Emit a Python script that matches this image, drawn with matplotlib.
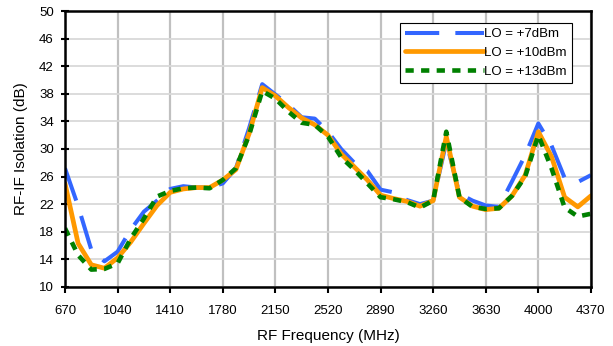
import matplotlib
matplotlib.use('Agg')
import matplotlib.pyplot as plt

plt.rcParams['font.family'] = ['Liberation Sans', 'DejaVu Sans']

# RF frequency categories (MHz)
freq = [670, 762.5, 855, 947.5, 1040, 1132.5, 1225, 1317.5, 1410, 1502.5,
        1595, 1687.5, 1780, 1872.5, 1965, 2057.5, 2150, 2242.5, 2335, 2427.5,
        2520, 2612.5, 2705, 2797.5, 2890, 2982.5, 3075, 3167.5, 3260, 3352.5,
        3445, 3537.5, 3630, 3722.5, 3815, 3907.5, 4000, 4092.5, 4185, 4277.5,
        4370]

# RF-IF isolation (dB)
lo7 = [27.2, 21.7, 15.4, 13.7, 15.1, 18.3, 20.9, 22.5, 24.2, 24.6,
       24.4, 24.4, 25.0, 27.2, 33.0, 39.4, 37.9, 36.4, 34.6, 34.4,
       32.5, 30.0, 28.0, 26.8, 24.1, 23.7, 22.6, 22.0, 22.5, 31.0,
       23.5, 22.5, 21.8, 21.6, 25.3, 29.1, 33.7, 30.5, 25.8, 25.2,
       26.2]
lo10 = [25.0, 16.3, 13.2, 12.7, 14.2, 16.5, 19.2, 21.8, 23.7, 24.2,
        24.4, 24.4, 25.5, 27.0, 32.2, 38.9, 37.7, 36.0, 34.5, 33.5,
        32.0, 29.3, 27.4, 25.5, 23.3, 22.8, 22.4, 21.7, 22.5, 31.8,
        23.0, 21.7, 21.2, 21.4, 23.2, 26.2, 32.5, 28.9, 23.0, 21.6,
        23.2]
lo13 = [18.5, 14.6, 12.5, 12.6, 13.4, 17.0, 19.9, 23.1, 23.9, 24.3,
        24.4, 24.3, 25.5, 27.2, 32.0, 38.4, 37.3, 35.4, 33.8, 33.5,
        31.8, 28.8, 27.0, 25.0, 23.0, 22.7, 22.3, 21.5, 22.5, 32.5,
        23.0, 21.6, 21.3, 21.4, 23.2, 26.0, 32.0, 27.2, 21.5, 20.2,
        20.6]

xticks = [670, 1040, 1410, 1780, 2150, 2520, 2890, 3260, 3630, 4000, 4370]
yticks = [10, 14, 18, 22, 26, 30, 34, 38, 42, 46, 50]

fig = plt.figure(figsize=(6.13, 3.46), dpi=100)
ax = fig.add_axes([0.106, 0.171, 0.858, 0.797])

ax.plot(freq, lo7, color='#3366FF', lw=2.9, dashes=(8.5, 4.0), label='LO = +7dBm')
ax.plot(freq, lo10, color='#FF9900', lw=3.4, solid_capstyle='round', label='LO = +10dBm')
ax.plot(freq, lo13, color='#008000', lw=3.3, dashes=(1.8, 1.6), label='LO = +13dBm')

ax.set_xlim(670, 4370)
ax.set_ylim(10, 50)
ax.set_xticks(xticks)
ax.set_yticks(yticks)
ax.xaxis.grid(True, color='#c0c0c0', lw=1.6)
ax.yaxis.grid(True, color='#d9d9d9', lw=1.3)
ax.set_axisbelow(True)
for s in ax.spines.values():
    s.set_linewidth(1.8)
    s.set_color('black')
ax.tick_params(axis='x', direction='out', length=4, width=1.5, pad=9, labelsize=9.5)
ax.tick_params(axis='y', direction='inout', length=6, width=1.5, pad=5, labelsize=9.5)

ax.set_xlabel('RF Frequency (MHz)', fontsize=11, labelpad=9)
ax.set_ylabel('RF-IF Isolation (dB)', fontsize=11, labelpad=8)

leg = ax.legend(loc='upper right', bbox_to_anchor=(0.964, 0.958), fontsize=9.5,
                handlelength=6.0, handletextpad=0.0, borderaxespad=0,
                fancybox=False, framealpha=1, edgecolor='black',
                borderpad=0.4, labelspacing=0.5)
leg.get_frame().set_linewidth(0.8)

fig.savefig('out.png', dpi=100)
